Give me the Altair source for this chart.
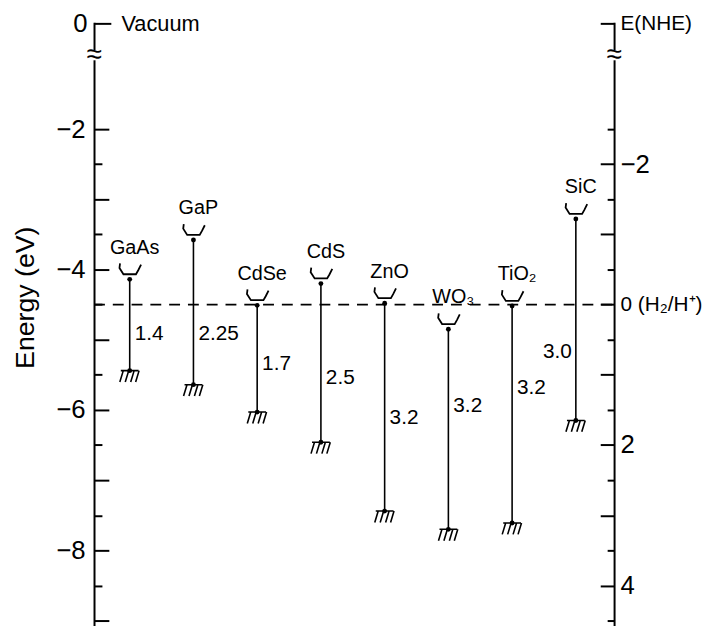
import altair as alt
import pandas as pd

FONT = "Liberation Sans"

# ---- data (energies in eV vs vacuum) ----
materials = ["GaAs", "GaP", "CdSe", "CdS", "ZnO", "WO₃", "TiO₂", "SiC"]
conduction = [-4.14, -3.58, -4.51, -4.20, -4.48, -4.85, -4.52, -3.28]
valence = [-5.44, -5.64, -6.03, -6.46, -7.44, -7.70, -7.61, -6.15]
gap_labels = ["1.4", "2.25", "1.7", "2.5", "3.2", "3.2", "3.2", "3.0"]
gap_label_at = [-4.92, -4.92, -5.34, -5.55, -6.12, -5.95, -5.69, -5.18]
gap_label_side = ["right", "right", "right", "right", "right", "right", "right", "left"]
h2_level = [-4.5]

# axis ticks (in eV vs vacuum); -0.5 position carries the broken-axis "0" / "E(NHE)" tick
axis_ticks = [-0.5, -2, -2.5, -3, -3.5, -4, -4.5, -5, -5.5, -6, -6.5, -7, -7.5, -8, -8.5, -9]
break_at = [-0.95, -0.95]

X_MIN, X_MAX = 0.44, 8.6
Y_MIN, Y_MAX = -9.07, -0.48

df = pd.DataFrame({
    "name": materials,
    "pos": list(range(1, len(materials) + 1)),
    "cb": conduction,
    "vb": valence,
    "gap": gap_labels,
    "gap_y": gap_label_at,
    "side": gap_label_side,
})

xscale = alt.Scale(domain=[X_MIN, X_MAX], nice=False, zero=False)
yscale = alt.Scale(domain=[Y_MIN, Y_MAX], nice=False, zero=False)
x_enc = alt.X("pos:Q", scale=xscale, axis=None)

left_axis = alt.Axis(
    orient="left",
    values=axis_ticks,
    labelExpr="datum.value === -0.5 ? '0' : (datum.value % 2 === 0 ? format(datum.value, 'd') : '')",
    tickSize=alt.ExprRef("datum.value === -0.5 ? -17 : (datum.value % 1 === 0 ? -15 : -8)"),
    labelPadding=24,
    labelFontSize=26,
    labelFont=FONT,
    labelColor="black",
    labelOverlap=False,
    title="Energy (eV)",
    titleFont=FONT,
    titleFontSize=27,
    titleFontWeight="normal",
    titleColor="black",
    titleAngle=270,
    titleX=-69,
    titleY=278,
    titleBaseline="middle",
    titleAlign="center",
    domainColor="black",
    domainWidth=2,
    tickColor="black",
    tickWidth=2,
    grid=False,
)

right_axis = alt.Axis(
    orient="right",
    values=axis_ticks,
    labelExpr=(
        "datum.value === -0.5 ? 'E(NHE)' : "
        "((-datum.value - 4.5) === 0 ? '0 (H₂/H⁺)' : "
        "((-datum.value - 4.5) % 2 === 0 ? format(-datum.value - 4.5, 'd') : ''))"
    ),
    tickSize=alt.ExprRef("datum.value === -0.5 ? -14 : ((-datum.value - 4.5) % 1 === 0 ? -14 : -7)"),
    labelPadding=20,
    labelFontSize={"condition": {"test": "datum.value === -0.5 || datum.value === -4.5", "value": 21},
                   "value": 26},
    labelFont=FONT,
    labelColor="black",
    labelOverlap=False,
    title=None,
    domainColor="black",
    domainWidth=2,
    tickColor="black",
    tickWidth=2,
    grid=False,
)

base = alt.Chart(df)

h2 = alt.Chart(pd.DataFrame({"e": h2_level, "x0": [X_MIN], "x1": [X_MAX]})).mark_rule(
    color="black", strokeWidth=2, strokeDash=[11, 8]
).encode(
    x=alt.X("x0:Q", scale=xscale, axis=None),
    x2="x1:Q",
    y=alt.Y("e:Q", scale=yscale, axis=None),
)

bands = base.mark_rule(color="black", strokeWidth=1.6).encode(
    x=x_enc,
    y=alt.Y("cb:Q", scale=yscale, axis=left_axis),
    y2="vb:Q",
)

top_dots = base.mark_point(shape="circle", filled=True, size=24, color="black", opacity=1).encode(
    x=x_enc, y=alt.Y("cb:Q", scale=yscale, axis=None)
)
bot_dots = base.mark_point(shape="circle", filled=True, size=24, color="black", opacity=1).encode(
    x=x_enc, y=alt.Y("vb:Q", scale=yscale, axis=None)
)

BRACKET = "M -0.85 -1.4 L -0.9 -1.0 L -0.55 -0.45 L 0.55 -0.45 L 0.75 -0.8 L 1 -1.3"
brackets = base.mark_point(shape=BRACKET, filled=False, size=529, color="black",
                           strokeWidth=1.8, opacity=1).encode(
    x=x_enc, y=alt.Y("cb:Q", scale=yscale, axis=None)
)

HATCH = ("M -0.9 0 L 0.9 0 M -1 1.15 L -0.65 0 M -0.45 1.15 L -0.1 0 "
         "M 0.1 1.15 L 0.45 0 M 0.6 1.15 L 0.95 0")
hatches = base.mark_point(shape=HATCH, filled=False, size=400, color="black",
                          strokeWidth=1.6, opacity=1).encode(
    x=x_enc, y=alt.Y("vb:Q", scale=yscale, axis=right_axis)
)

names = base.mark_text(font=FONT, fontSize=20, dx=5, dy=-26, baseline="alphabetic",
                       align="center", color="black").encode(
    x=x_enc, y=alt.Y("cb:Q", scale=yscale, axis=None), text="name:N"
)

gap_r = base.transform_filter("datum.side === 'right'").mark_text(
    font=FONT, fontSize=21, dx=5, align="left", baseline="middle", color="black"
).encode(x=x_enc, y=alt.Y("gap_y:Q", scale=yscale, axis=None), text="gap:N")

gap_l = base.transform_filter("datum.side === 'left'").mark_text(
    font=FONT, fontSize=21, dx=-4, align="right", baseline="middle", color="black"
).encode(x=x_enc, y=alt.Y("gap_y:Q", scale=yscale, axis=None), text="gap:N")

brk = pd.DataFrame({
    "x": [X_MIN, X_MAX],
    "y": break_at,
    "bx0": [X_MIN - 0.08, X_MAX - 0.08],
    "bx1": [X_MIN + 0.08, X_MAX + 0.08],
    "by0": [b + 0.07 for b in break_at],
    "by1": [b - 0.07 for b in break_at],
    "t": ["≈", "≈"],
})
break_rect = alt.Chart(brk).mark_rect(color="white", opacity=1).encode(
    x=alt.X("bx0:Q", scale=xscale, axis=None), x2="bx1:Q",
    y=alt.Y("by0:Q", scale=yscale, axis=None), y2="by1:Q",
)
break_txt = alt.Chart(brk).mark_text(font=FONT, fontSize=28, align="center",
                                     baseline="middle", color="black").encode(
    x=alt.X("x:Q", scale=xscale, axis=None),
    y=alt.Y("y:Q", scale=yscale, axis=None),
    text="t:N",
)

vac = alt.Chart(pd.DataFrame({"x": [0.87], "y": [-0.5], "t": ["Vacuum"]})).mark_text(
    font=FONT, fontSize=22, align="left", baseline="middle", color="black"
).encode(
    x=alt.X("x:Q", scale=xscale, axis=None),
    y=alt.Y("y:Q", scale=yscale, axis=None),
    text="t:N",
)

chart = alt.layer(
    h2, bands, top_dots, bot_dots, brackets, hatches, names, gap_r, gap_l,
    break_rect, break_txt, vac,
).resolve_scale(x="shared", y="shared").resolve_axis(y="independent").properties(
    width=526,
    height=610,
    autosize=alt.AutoSizeParams(type="none"),
    padding={"left": 87, "top": 11, "right": 96, "bottom": 0},
    background="white",
).configure_view(stroke=None)

chart.save("out.html", embed_options={"renderer": "svg", "actions": False})
